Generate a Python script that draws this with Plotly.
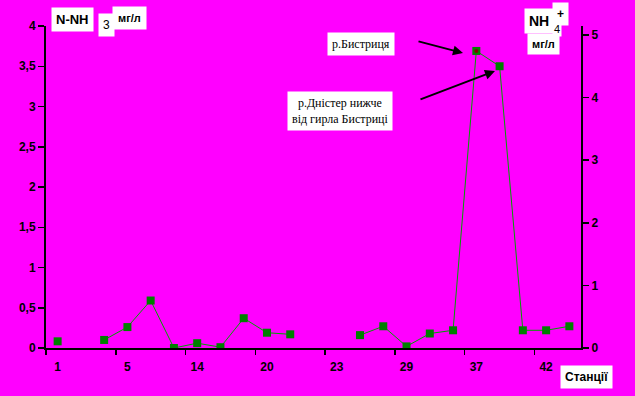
import plotly.graph_objects as go

# Data (N-NH3, mg/l) per station position; None = no measurement
stations_idx = list(range(23))
values = [0.083, None, 0.10, 0.26, 0.59, 0.0, 0.06, 0.01, 0.37, 0.19, 0.17,
          None, None, 0.16, 0.27, 0.02, 0.18, 0.22, 3.69, 3.50, 0.22, 0.22, 0.27]
tick_label_pos = [0, 3, 6, 9, 12, 15, 18, 21]
tick_labels = ["1", "5", "14", "20", "23", "29", "37", "42"]
boundary_ticks = [-0.5, 2.5, 5.5, 8.5, 11.5, 14.5, 17.5, 20.5]
left_ticks = [0, 0.5, 1, 1.5, 2, 2.5, 3, 3.5, 4]
right_ticks = [0, 1, 2, 3, 4, 5]

W, H = 635, 396
L, R, T, B = 46, 581, 26, 348

def px(x):
    return (x - L) / (R - L)

def py(y):
    return (B - y) / (B - T)

fig = go.Figure()
fig.add_trace(go.Scatter(
    x=stations_idx, y=values, mode="lines+markers",
    line=dict(color="#00a000", width=1),
    marker=dict(symbol="square", size=8, color="#008000"),
    connectgaps=False, showlegend=False, hoverinfo="skip"))
# highlighted point (р.Бистриця)
fig.add_trace(go.Scatter(
    x=[stations_idx[18]], y=[values[18]], mode="markers",
    marker=dict(symbol="circle", size=4, color="#800000"),
    showlegend=False, hoverinfo="skip"))
# invisible trace for right axis
fig.add_trace(go.Scatter(x=[0], y=[0], yaxis="y2", mode="markers",
                         marker=dict(opacity=0), showlegend=False, hoverinfo="skip"))

tickfont = dict(family="Liberation Sans", size=12, color="black", weight="bold")

fig.update_layout(
    width=W, height=H,
    paper_bgcolor="#FF00FF", plot_bgcolor="#FF00FF",
    margin=dict(l=L, r=W - R, t=T, b=H - B, autoexpand=False),
    separators=", ",
    xaxis=dict(range=[-0.5, 22.5], showgrid=False, zeroline=False,
               showline=True, linecolor="black", linewidth=2,
               tickmode="array", tickvals=tick_label_pos, ticktext=tick_labels,
               ticks="", ticklabelstandoff=7, tickfont=tickfont,
               minor=dict(tickmode="array", tickvals=boundary_ticks, ticks="outside",
                          ticklen=5, tickcolor="black", tickwidth=1.5)),
    yaxis=dict(range=[0, 4], showgrid=False, zeroline=False,
               showline=True, linecolor="black", linewidth=2,
               tickmode="array", tickvals=left_ticks, ticks="outside",
               ticklen=6, tickwidth=1.5, tickcolor="black", tickfont=tickfont,
               tickformat=".1~f"),
    yaxis2=dict(range=[0, 4 * 18 / 14], overlaying="y", side="right",
                showgrid=False, zeroline=False,
                showline=True, linecolor="black", linewidth=2,
                tickmode="array", tickvals=right_ticks, ticks="outside",
                ticklen=6, tickwidth=1.5, tickcolor="black", tickfont=tickfont),
)

def box(text, x, y, size=13, bold=True, family="Liberation Sans", pad=3, align="left"):
    fig.add_annotation(text=text, xref="paper", yref="paper", x=px(x), y=py(y),
                       xanchor="left", yanchor="top", showarrow=False,
                       bgcolor="white", borderpad=pad, align=align,
                       font=dict(family=family, size=size, color="black",
                                 weight="bold" if bold else "normal"))

box("N-NH", 51, 7, size=13, pad=4)
box("3", 98, 13, size=12, bold=False, pad=4)
box("мг/л", 112, 6, size=11, pad=5)
box("+", 552, 2, size=12, pad=4)
box("NH", 524, 8, size=14, pad=4)
box("мг/л", 527, 33, size=11, pad=4)
box("4", 552, 21, size=11, bold=False, pad=1)
box("Станції", 560, 365, size=12, pad=4)
box("р.Бистриця", 327, 32, size=12, bold=False, family="Liberation Serif", pad=4)
box("р.Дністер нижче<br>від гирла Бистриці", 287, 91, size=12, bold=False,
    family="Liberation Serif", pad=4, align="center")

def arrow(tip_x, tip_y, tail_x, tail_y):
    fig.add_annotation(xref="paper", yref="paper", x=px(tip_x), y=py(tip_y),
                       ax=tail_x - tip_x, ay=tail_y - tip_y, text="",
                       showarrow=True, arrowhead=2, arrowsize=1, arrowwidth=2,
                       arrowcolor="black")

arrow(463, 53, 417, 41)
arrow(495, 71, 419, 100)

fig.write_html("out.html", config={"displayModeBar": False, "staticPlot": True},
               post_script="document.body.style.margin='0';document.body.style.overflow='hidden';")
